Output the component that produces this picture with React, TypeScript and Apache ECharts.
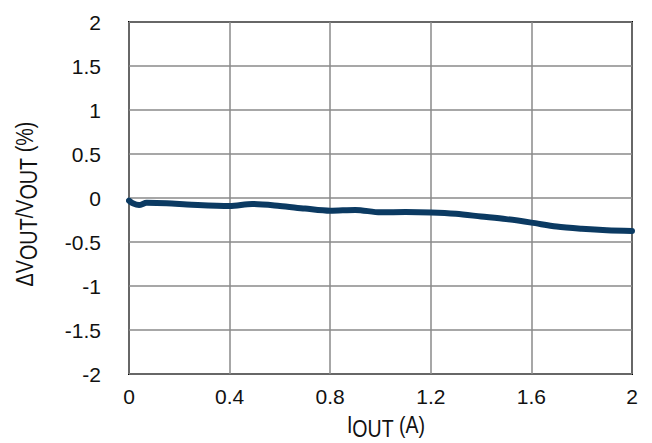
import React, { useEffect, useRef } from "react";
import * as echarts from "echarts";

const currentA = [0, 0.015, 0.04, 0.07, 0.15, 0.25, 0.4, 0.49, 0.6, 0.7, 0.8, 0.9, 1.0, 1.1, 1.2, 1.3, 1.4, 1.5, 1.6, 1.7, 1.8, 1.9, 2.0];
const deltaPct = [-0.03, -0.06, -0.08, -0.055, -0.06, -0.076, -0.09, -0.068, -0.09, -0.12, -0.145, -0.135, -0.163, -0.16, -0.165, -0.18, -0.21, -0.24, -0.28, -0.325, -0.35, -0.367, -0.375];

const FONT = "'Liberation Sans', Arial, sans-serif";

export default function App() {
  const ref = useRef<HTMLDivElement>(null);
  useEffect(() => {
    if (!ref.current) return;
    const chart = echarts.init(ref.current, undefined, { renderer: "svg" });
    const data = currentA.map((x, i) => [x, deltaPct[i]]);
    const rich = {
      a: { fontFamily: FONT, fontSize: 23, lineHeight: 28, fill: "#111" },
      s: { fontFamily: FONT, fontSize: 23, lineHeight: 28, padding: [8, 0, 0, 0], fill: "#111" },
    };
    chart.setOption({
      animation: false,
      backgroundColor: "#fff",
      grid: {
        left: 129,
        top: 22,
        right: 20,
        bottom: 69,
        show: true,
        borderColor: "#000",
        borderWidth: 2,
        containLabel: false,
      },
      xAxis: {
        type: "value",
        min: 0,
        max: 2,
        interval: 0.4,
        axisLine: { show: false },
        axisTick: { show: false },
        splitLine: { show: true, lineStyle: { color: "#8a8a8a", width: 1.5 } },
        axisLabel: { fontFamily: FONT, fontSize: 21, color: "#111", margin: 12 },
      },
      yAxis: {
        type: "value",
        min: -2,
        max: 2,
        interval: 0.5,
        axisLine: { show: false },
        axisTick: { show: false },
        splitLine: { show: true, lineStyle: { color: "#8a8a8a", width: 1.5 } },
        axisLabel: { fontFamily: FONT, fontSize: 21, color: "#111", margin: 28 },
      },
      graphic: [
        {
          type: "text",
          x: 25,
          y: 204,
          rotation: Math.PI / 2,
          scaleX: 0.86,
          style: {
            text: "{a|ΔV}{s|OUT}{a|/V}{s|OUT}{a| (%)}",
            align: "center",
            verticalAlign: "middle",
            fill: "#111",
            rich,
          },
        },
        {
          type: "text",
          x: 386,
          y: 425,
          scaleX: 0.85,
          style: {
            text: "{a|I}{s|OUT}{a| (A)}",
            align: "center",
            verticalAlign: "middle",
            fill: "#111",
            rich,
          },
        },
      ],
      series: [
        {
          type: "line",
          data,
          smooth: 0.3,
          showSymbol: false,
          lineStyle: { color: "#0b3a62", width: 6, cap: "round", join: "round" },
        },
      ],
    });
    return () => chart.dispose();
  }, []);
  return <div ref={ref} style={{ position: "fixed", left: 0, top: 0, width: 652, height: 443 }} />;
}
